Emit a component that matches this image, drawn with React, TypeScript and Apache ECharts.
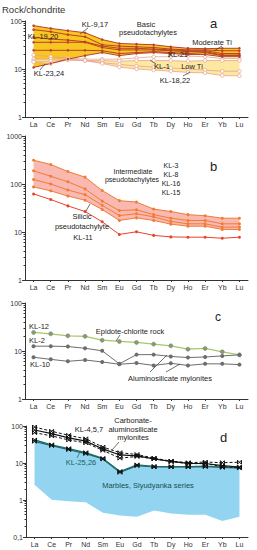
import React, { useEffect, useRef } from "react";
import * as echarts from "echarts";

const CATS = ["La", "Ce", "Pr", "Nd", "Sm", "Eu", "Gd", "Tb", "Dy", "Ho", "Er", "Yb", "Lu"];

// Panel a – basic pseudotachylytes, moderate Ti
const A_M1 = [80, 70, 63, 57, 41, 34, 33, 32, 29, 27, 26.5, 27, 27];
const A_M2 = [66, 60, 52, 47, 32, 30, 29, 28, 26, 25, 25, 24, 24];
const A_M3 = [46, 42, 40, 37, 30, 27, 27, 26, 25, 24, 24, 21, 21];
const A_M4 = [36, 36, 36, 36, 28, 25, 25, 25, 24, 23, 23, 19.5, 19.5];
const A_M5 = [24.5, 24.5, 24.5, 24.5, 24, 21, 22, 23, 22, 21, 22, 19, 19];
const A_M6 = [10.8, 13, 16, 19, 22, 19, 21, 22, 21, 20, 20, 18, 18];
// Panel a – low Ti
const A_L1 = [19.5, 18, 17, 16, 16, 16, 17, 18, 18, 18.5, 18, 16.5, 16.5];
const A_L2 = [16, 16, 16, 15, 15, 14.5, 15, 15, 15, 14.5, 15, 15, 15];
const A_L3 = [14.5, 14.5, 15.5, 15, 13.5, 12.5, 11.5, 11, 10.5, 10, 9.5, 9, 9];
const A_L4 = [14, 13, 15.5, 15, 13, 11, 10, 9.5, 9, 8.5, 8.3, 7.3, 7.2];

// Panel b – intermediate pseudotachylytes + silicic KL-11
const B_KL3 = [313, 255, 182, 139, 73, 45, 42, 30, 26.7, 23, 21.8, 19.4, 19.4];
const B_KL8 = [188, 145, 111, 79, 44, 28, 29, 23, 19.4, 17.4, 17.4, 14.8, 14.8];
const B_KL16 = [124, 100, 75, 60, 36, 22, 24, 20.7, 16.6, 14.8, 14.8, 12.6, 12.7];
const B_KL15 = [87, 72, 56, 46, 29.4, 17.4, 19.7, 17.4, 14.6, 13.2, 13.2, 11.3, 11.3];
const B_KL11 = [62, 47.5, 35, 26.7, 16.3, 8.9, 10.1, 8.5, 7.9, 7.8, 7.8, 7.4, 7.8];

// Panel c
const C_KL12 = [24.4, 22.8, 20.7, 20.2, 16.8, 15.8, 15.1, 13.9, 12.8, 10.9, 11.3, 9.6, 8.3];
const C_KL2 = [12.6, 12.6, 12.4, 11.4, 10.1, 5.4, 8.4, 8.4, 7.7, 7.3, 7.5, 7.9, 8.3];
const C_KL10 = [7.4, 6.7, 6.1, 6.5, 5.9, 5.3, 5.6, 5.0, 5.55, 5.0, 5.4, 5.4, 5.2];

// Panel d
const D_KL4 = [94, 72, 56, 45, 27, 19, 17, 13.5, 11.2, 10.2, 10.6, 10.2, 10.5];
const D_KL5 = [78, 62, 48, 39, 24, 16.5, 15.5, 13, 11, 9.8, 9.7, 8.5, 7.8];
const D_KL7 = [66, 54, 42, 35, 22, 13.5, 15, 13, 11, 9.6, 9.6, 8, 7.5];
const D_KL25 = [38.5, 29.5, 23, 18, 12.8, 5.6, 8.5, 7.8, 7.8, 7.8, 8, 7.6, 7.3];
const D_KL26 = [42, 31, 24.5, 19, 13.3, 5.9, 8.9, 8.1, 8.0, 8.0, 8.2, 7.8, 7.5];
const D_MARBLE_TOP = [44, 31, 24, 19, 13, 5.8, 8.8, 7.8, 7.8, 7.8, 7.8, 7.5, 7.2];
const D_MARBLE_BOT = [2.6, 1.02, 0.92, 0.87, 0.45, 0.38, 0.35, 0.52, 0.43, 0.4, 0.4, 0.27, 0.35];

const FONT = "Arial, 'Liberation Sans', sans-serif";

function band(ai: number, upper: number[], lower: number[], fill: string) {
  return {
    type: "custom",
    xAxisIndex: ai,
    yAxisIndex: ai,
    silent: true,
    z: 1,
    data: [[0, upper[0]]],
    renderItem: (_p: any, api: any) => {
      const pts: number[][] = [];
      upper.forEach((v, i) => pts.push(api.coord([i, v])));
      for (let i = lower.length - 1; i >= 0; i--) pts.push(api.coord([i, lower[i]]));
      return { type: "polygon", shape: { points: pts }, style: { fill, stroke: "none" } };
    },
  };
}

function line(ai: number, data: number[], color: string, opts: any = {}) {
  return {
    type: "line",
    xAxisIndex: ai,
    yAxisIndex: ai,
    data,
    silent: true,
    z: opts.z ?? 3,
    symbol: opts.symbol ?? "circle",
    symbolSize: opts.size ?? 3,
    lineStyle: { color, width: opts.width ?? 1, type: opts.dash ? [3, 2] : "solid" },
    itemStyle: {
      color: opts.fill ?? color,
      borderColor: opts.border ?? color,
      borderWidth: opts.bw ?? 0,
    },
  };
}

function txt(x: number, y: number, text: string, o: any = {}) {
  return {
    type: "text",
    x,
    y,
    silent: true,
    z: 50,
    style: {
      text,
      fill: o.color ?? "#222",
      fontSize: o.size ?? 7.5,
      fontFamily: FONT,
      align: o.align ?? "left",
      verticalAlign: "middle",
    },
  };
}

function ln(x1: number, y1: number, x2: number, y2: number, color = "#333") {
  return {
    type: "line",
    silent: true,
    z: 50,
    shape: { x1, y1, x2, y2 },
    style: { stroke: color, lineWidth: 0.7 },
  };
}

const GRIDS = [
  { left: 25, top: 21, width: 223, height: 96 },
  { left: 25, top: 136, width: 223, height: 144 },
  { left: 25, top: 303, width: 223, height: 96 },
  { left: 26, top: 426, width: 222, height: 111 },
];
const YRANGE = [
  [1, 100],
  [1, 1000],
  [1, 100],
  [0.1, 100],
];

export default function App() {
  const ref = useRef<HTMLDivElement>(null);
  useEffect(() => {
    document.body.style.margin = "0";
    const chart = echarts.init(ref.current!, null, { renderer: "svg" });
    const axisColor = "#333";
    const xAxis = GRIDS.map((_, i) => ({
      type: "category",
      gridIndex: i,
      data: CATS,
      boundaryGap: true,
      axisLine: { lineStyle: { color: axisColor, width: 1 } },
      axisTick: { show: true, alignWithLabel: true, length: 2, lineStyle: { color: axisColor } },
      axisLabel: { fontSize: 7, color: "#333", margin: 4, fontFamily: FONT, interval: 0 },
      splitLine: { show: false },
    }));
    const yAxis = GRIDS.map((_, i) => ({
      type: "log",
      logBase: 10,
      gridIndex: i,
      min: YRANGE[i][0],
      max: YRANGE[i][1],
      axisLine: { show: true, lineStyle: { color: axisColor, width: 1 } },
      axisTick: { show: true, length: 3, lineStyle: { color: axisColor } },
      minorTick: { show: true, splitNumber: 9, length: 1.5, lineStyle: { color: axisColor } },
      axisLabel: {
        fontSize: 7,
        color: "#333",
        margin: 3,
        fontFamily: FONT,
        formatter: (v: number) => (v < 1 ? String(v).replace(".", ",") : String(v)),
      },
      splitLine: { show: false },
    }));

    const darkA = "#b8412a";
    const lightA = "#e4a58e";
    const orangeB = "#f07c36";
    const xSym = "path://M0,0L10,10M10,0L0,10M0,0L0,10M10,0L10,10";
    const series: any[] = [
      // panel a
      band(0, A_M1, A_M1.map((_, i) => Math.min(A_M5[i], A_M6[i])), "#f8c620"),
      band(0, A_L2, A_L4, "#fde8a2"),
      ...[A_L1, A_L2, A_L3, A_L4].map((d) =>
        line(0, d, lightA, { fill: "#fff", border: lightA, bw: 0.8, size: 3.5, width: 0.8 })
      ),
      ...[A_M1, A_M2, A_M3, A_M4, A_M5, A_M6].map((d) => line(0, d, darkA, { size: 2.5, width: 1 })),
      // panel b
      band(1, B_KL3, B_KL15, "#f9b8b0"),
      ...[B_KL3, B_KL8, B_KL16, B_KL15].map((d) => line(1, d, orangeB, { size: 3, width: 1 })),
      line(1, B_KL11, "#e8432b", { size: 3, width: 1 }),
      // panel c
      line(2, C_KL12, "#a9c76a", { fill: "#8c9a78", border: "#6f7a5e", bw: 0.5, size: 4, width: 1.2 }),
      line(2, C_KL2, "#6d6d6d", { fill: "#6d6d6d", size: 4, width: 1 }),
      line(2, C_KL10, "#6d6d6d", { fill: "#6d6d6d", size: 4, width: 1 }),
      // panel d
      band(3, D_MARBLE_TOP, D_MARBLE_BOT, "#93d5f1"),
      ...[D_KL25, D_KL26].map((d) =>
        line(3, d, "#1d6b66", { symbol: xSym, size: 4, border: "#111", bw: 1, fill: "none", width: 1.2 })
      ),
      line(3, D_KL4, "#111", { dash: true, symbol: xSym, size: 4, border: "#111", bw: 1, fill: "none", width: 1 }),
      line(3, D_KL5, "#111", { symbol: xSym, size: 4, border: "#111", bw: 1, fill: "none", width: 1.2 }),
      line(3, D_KL7, "#111", { dash: true, symbol: xSym, size: 4, border: "#111", bw: 1, fill: "none", width: 1 }),
    ];

    const graphic: any[] = [
      txt(2, 9, "Rock/chondrite", { size: 9.5, color: "#333" }),
      // panel a
      txt(210, 23, "a", { size: 13 }),
      txt(95, 24, "KL-9,17", { align: "center" }),
      ln(88, 28, 80, 34),
      txt(146, 24, "Basic", { align: "center" }),
      txt(148, 32, "pseudotachylytes", { align: "center" }),
      txt(212, 42, "Moderate Ti", { align: "center" }),
      ln(222, 46, 214, 51),
      txt(43, 36, "KL-19,20", { align: "center" }),
      txt(178, 54, "KL-21", { align: "center" }),
      ln(172, 55, 168, 57),
      txt(162, 66, "KL-1", { align: "center" }),
      ln(156, 64, 150, 60),
      txt(192, 66, "Low Ti", { align: "center" }),
      txt(49, 73, "KL-23,24", { align: "center" }),
      ln(40, 70, 45, 64),
      txt(175, 80, "KL-18,22", { align: "center" }),
      ln(183, 76, 190, 72),
      // panel b
      txt(210, 166, "b", { size: 13 }),
      txt(133, 171.5, "Intermediate", { align: "center", size: 7 }),
      txt(132, 179, "pseudotachylytes", { align: "center", size: 7 }),
      txt(171, 165, "KL-3", { align: "center", size: 7 }),
      txt(171, 174, "KL-8", { align: "center", size: 7 }),
      txt(171, 183, "KL-16", { align: "center", size: 7 }),
      txt(171, 192, "KL-15", { align: "center", size: 7 }),
      txt(82, 216, "Silicic", { align: "center" }),
      txt(82, 226, "pseudotachylyte", { align: "center" }),
      txt(83, 237, "KL-11", { align: "center" }),
      ln(86, 211, 90, 204),
      // panel c
      txt(215, 317, "c", { size: 12 }),
      txt(39, 326, "KL-12", { align: "center" }),
      txt(37, 340, "KL-2", { align: "center" }),
      txt(40, 364, "KL-10", { align: "center" }),
      txt(130, 331, "Epidote-chlorite rock", { align: "center" }),
      ln(120, 335, 116, 341),
      txt(170, 378, "Aluminosilicate mylonites", { align: "center" }),
      ln(150, 372, 167, 355),
      ln(166, 372, 180, 364),
      // panel d
      txt(220, 437, "d", { size: 13 }),
      txt(89, 429, "KL-4,5,7", { align: "center" }),
      txt(133, 420, "Carbonate-", { align: "center" }),
      txt(133, 429, "aluminosilicate", { align: "center" }),
      txt(133, 437, "mylonites", { align: "center" }),
      ln(119, 442, 112, 450),
      txt(81, 462, "KL-25,26", { align: "center", color: "#1d5f5c" }),
      ln(77, 458, 80, 452, "#1d5f5c"),
      txt(148, 485, "Marbles, Slyudyanka series", { align: "center", color: "#17504f" }),
    ];

    chart.setOption({
      animation: false,
      backgroundColor: "#fff",
      grid: GRIDS,
      xAxis,
      yAxis,
      series,
      graphic,
    });
    return () => chart.dispose();
  }, []);
  return <div ref={ref} style={{ position: "absolute", left: 0, top: 0, width: 257, height: 550 }} />;
}
